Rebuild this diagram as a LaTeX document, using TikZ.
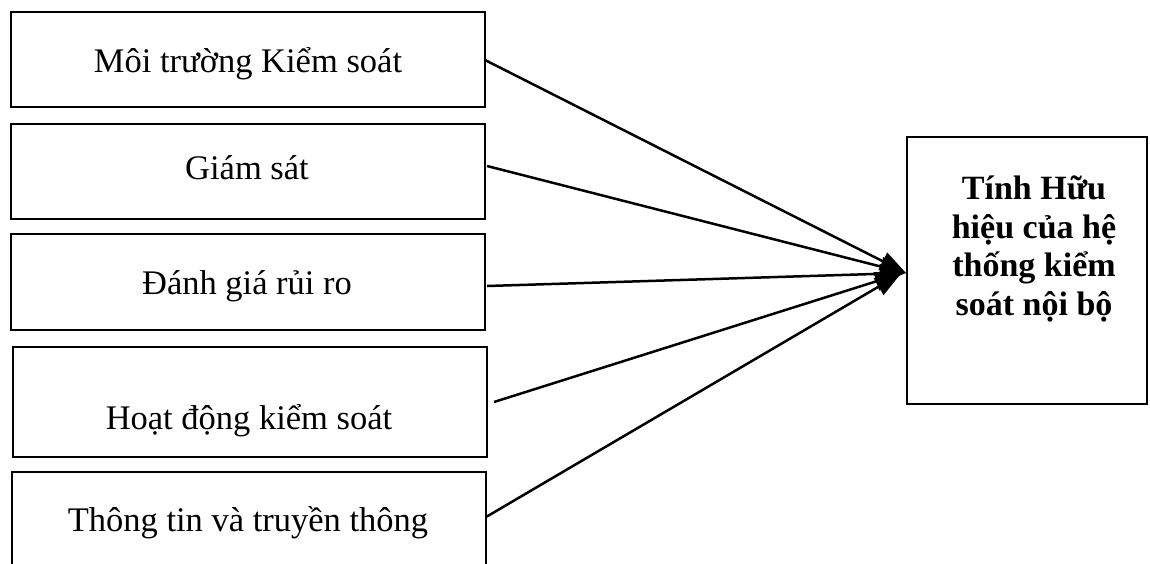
\documentclass[tikz,border=0pt]{standalone}
\usepackage{fontspec}
\setmainfont{Liberation Serif}
\usetikzlibrary{arrows.meta}
\begin{document}
\begin{tikzpicture}[x=1pt,y=-1pt,
  every node/.style={inner sep=0pt, outer sep=0pt},
  factor/.style={draw, line width=2pt, minimum width=474pt},
  label text/.style={anchor=base, font=\fontsize{34.5}{40}\selectfont},
  result/.style={draw, line width=2pt, minimum width=240pt, minimum height=267pt},
  link/.style={line width=2.5pt, -{Triangle[length=26pt, width=19pt]}}]
  \useasboundingbox (0,0) rectangle (1150,563);

  % five components on the left
  \node[factor, minimum height=95pt] (b1) at (248,59) {};
  \node[label text] (t1) at (248,72.7) {Môi trường Kiểm soát};
  \node[factor, minimum height=95pt] (b2) at (248,171.5) {};
  \node[label text] (t2) at (247,179) {Giám sát};
  \node[factor, minimum height=96pt] (b3) at (248,282) {};
  \node[label text] (t3) at (247,294) {Đánh giá rủi ro};
  \node[factor, minimum height=110pt] (b4) at (250,402) {};
  \node[label text] (t4) at (249,429.3) {Hoạt động kiểm soát};
  \node[factor, minimum height=110pt] (b5) at (249,527) {};
  \node[label text] (t5) at (248,531.7) {Thông tin và truyền thông};

  % outcome box on the right
  \node[result] (kq) at (1027,270.5) {};
  \node[align=center, font=\bfseries\fontsize{34}{38.5}\selectfont]
    (tkq) at (1034,249) {Tính Hữu\\hiệu của hệ\\thống kiểm\\soát nội bộ};

  % arrow tips at the outcome box
  \coordinate (tipA) at ([xshift=-1pt,yshift=-2.5pt]kq.west);
  \coordinate (tipB) at ([xshift=-6pt,yshift=-3pt]kq.west);

  \draw[link] ([yshift=-1pt]b1.east) -- (tipA);
  \draw[link] ([xshift=2pt,yshift=5.5pt]b2.east) -- (tipA);
  \draw[link] ([xshift=2pt,yshift=-4pt]b3.east) -- (tipA);
  \draw[link] ([xshift=7pt]b4.east) -- (tipB);
  \draw[link] ([yshift=10pt]b5.east) -- (tipB);
\end{tikzpicture}
\end{document}
